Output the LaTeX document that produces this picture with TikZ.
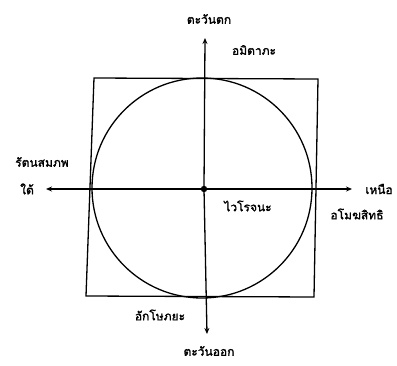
\documentclass[tikz,border=0pt]{standalone}
\usepackage{fontspec}
\newfontfamily\thaifont[Script=Thai,FakeBold=1.5]{Loma}
\usetikzlibrary{arrows.meta}
\tikzset{lbl/.style={font=\thaifont\fontsize{12}{14}\selectfont, inner sep=0pt}}
\begin{document}
\begin{tikzpicture}[x=1pt,y=-1pt,line width=1.3pt]
  \useasboundingbox (0,0) rectangle (397,365);

  % square frame
  \draw (94,78) -- (318,79) -- (314,297) -- (86,296) -- cycle;

  % circle
  \draw (202,188) circle (110);

  % axis end points
  \coordinate (c) at (204,189);
  \coordinate (top) at (205,38);
  \coordinate (bot) at (207,334);
  \coordinate (lft) at (46,189);
  \coordinate (rgt) at (352,189);

  % axes
  \draw[-{Stealth[length=6pt,width=5pt]}] (c) -- (top);
  \draw[-{Stealth[length=6pt,width=5pt]}] (c) -- (bot);
  \draw[-{Stealth[length=6pt,width=5pt]}] (c) -- (lft);
  \draw[-{Stealth[length=6pt,width=5pt]}] (c) -- (rgt);

  % centre dot
  \filldraw (c) circle (2.5);

  % labels
  \node[lbl] (west) at (209,19) {ตะวันตก};
  \node[lbl] (amitabha) at (254,50) {อมิตาภะ};
  \node[lbl] (ratna) at (42,162) {รัตนสมภพ};
  \node[lbl] (south) at (27,189) {ใต้};
  \node[lbl] (north) at (379,189) {เหนือ};
  \node[lbl] (amogha) at (357,214) {อโมฆสิทธิ};
  \node[lbl] (vairo) at (248,206) {ไวโรจนะ};
  \node[lbl] (akshob) at (160,315) {อักโษภยะ};
  \node[lbl] (east) at (209,351) {ตะวันออก};
\end{tikzpicture}
\end{document}
